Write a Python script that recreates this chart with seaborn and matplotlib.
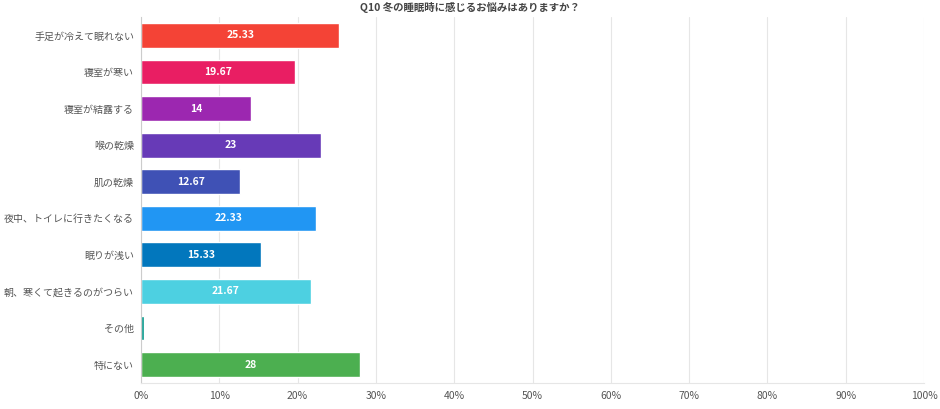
import matplotlib.pyplot as plt
import seaborn as sns
import pandas as pd

categories = ['手足が冷えて眠れない', '寝室が寒い', '寝室が結露する', '喉の乾燥', '肌の乾燥',
              '夜中、トイレに行きたくなる', '眠りが浅い', '朝、寒くて起きるのがつらい', 'その他', '特にない']
values = [25.33, 19.67, 14, 23, 12.67, 22.33, 15.33, 21.67, 0.33, 28]
labels = ['25.33', '19.67', '14', '23', '12.67', '22.33', '15.33', '21.67', '', '28']
colors = ['#F44336', '#E91E63', '#9C27B0', '#673AB7', '#3F51B5',
          '#2196F3', '#0277BD', '#4DD0E1', '#009688', '#4CAF50']
xticks = list(range(0, 101, 10))

sns.set_style('white')
plt.rcParams['font.family'] = ['Noto Sans CJK JP', 'DejaVu Sans']

df = pd.DataFrame({'cat': categories, 'val': values})

fig = plt.figure(figsize=(9.4, 4.09), dpi=100)
ax = fig.add_axes([0.15, 0.064, 0.833, 0.894])
sns.barplot(data=df, x='val', y='cat', hue='cat', palette=colors, legend=False,
            width=0.68, ax=ax, saturation=1)

for i, (v, t) in enumerate(zip(values, labels)):
    if t:
        ax.text(v / 2, i, t, ha='center', va='center', color='white',
                fontsize=7.5, fontweight='bold')

ax.set_xlim(0, 100)
ax.set_xticks(xticks)
ax.set_xticklabels([f'{t}%' for t in xticks])
ax.set_xlabel('')
ax.set_ylabel('')
ax.grid(axis='x', color='#e6e6e6', linewidth=0.8)
ax.set_axisbelow(True)
for s in ['top', 'right']:
    ax.spines[s].set_visible(False)
ax.spines['left'].set_color('#cccccc')
ax.spines['bottom'].set_color('#e6e6e6')
ax.tick_params(axis='y', length=0, labelsize=7.2, colors='#555555', pad=5)
ax.tick_params(axis='x', length=0, labelsize=7.5, colors='#555555', pad=6)

fig.suptitle('Q10 冬の睡眠時に感じるお悩みはありますか？', x=0.5, y=0.995,
             fontsize=7.5, fontweight='bold', color='#444444')

fig.savefig('out.png', dpi=100)
